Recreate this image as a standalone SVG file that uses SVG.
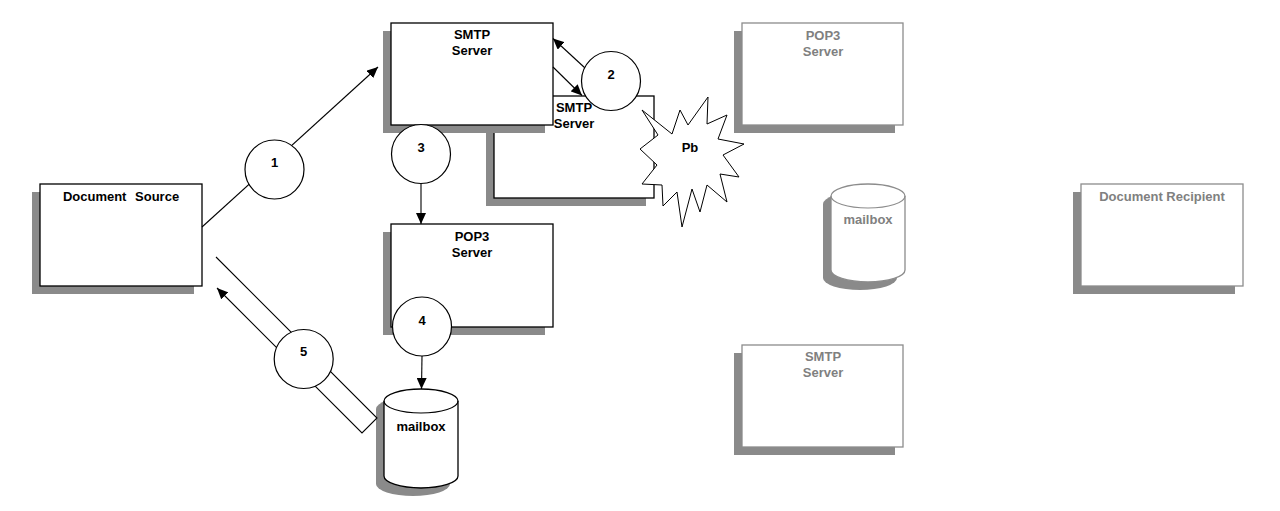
<svg xmlns="http://www.w3.org/2000/svg" width="1280" height="511" viewBox="0 0 1280 511">
<style>
.sh{fill:#8a8a8a;stroke:none}
.bx{fill:#fff;stroke:#000;stroke-width:1.3}
.gbx{fill:#fff;stroke:#8c8c8c;stroke-width:1.3}
.t{font-family:"Liberation Sans",Arial,sans-serif;font-weight:bold;font-size:13px;fill:#000;text-anchor:middle}
.gt{font-family:"Liberation Sans",Arial,sans-serif;font-weight:bold;font-size:13px;fill:#808080;text-anchor:middle}
.c{fill:#fff;stroke:#000;stroke-width:1.2}
.ln{fill:none;stroke:#000;stroke-width:1.1}
</style>
<defs>
<marker id="ah" markerUnits="userSpaceOnUse" markerWidth="12" markerHeight="10" refX="11" refY="5" orient="auto">
<path d="M0,0 L11,5 L0,10 Z" fill="#000"/>
</marker>
</defs>
<rect width="1280" height="511" fill="#fff"/>

<g id="smtp-server-2">
<rect class="sh" x="486" y="104" width="160" height="102"/>
<rect class="bx" x="494" y="96" width="160" height="102"/>
<text class="t" x="574" y="112">SMTP</text>
<text class="t" x="574" y="128">Server</text>
</g>

<g id="smtp-server">
<rect class="sh" x="383" y="31" width="162" height="102"/>
<rect class="bx" x="391" y="23" width="162" height="102"/>
<text class="t" x="472" y="39">SMTP</text>
<text class="t" x="472" y="55">Server</text>
</g>

<g id="pb">
<polygon points="642,110 672,134 680,110 688,125 708,97 707,124 727,115 718,139 744,144 723,155 739,177 720,174 727,202 707,185 700,212 692,189 682,227 677,192 663,206 662,185 642,184 657,165 640,149 658,135" fill="#fff" stroke="#000" stroke-width="1"/>
<text class="t" x="690" y="152">Pb</text>
</g>

<g id="document-source">
<rect class="sh" x="32" y="192" width="162" height="102"/>
<rect class="bx" x="40" y="184" width="162" height="102"/>
<text class="t" x="121" y="201" word-spacing="5">Document Source</text>
</g>

<g id="pop3-server">
<rect class="sh" x="383" y="232" width="162" height="103"/>
<rect class="bx" x="391" y="224" width="162" height="103"/>
<text class="t" x="472" y="241">POP3</text>
<text class="t" x="472" y="257">Server</text>
</g>

<g id="mailbox">
<path class="sh" d="M376,409 A37,12 0 0 1 450,409 L450,484 A37,12 0 0 1 376,484 Z"/>
<path class="bx" d="M384,401 A37,12 0 0 1 458,401 L458,476 A37,12 0 0 1 384,476 Z"/>
<path class="ln" d="M384,401 A37,12 0 0 0 458,401"/>
<text class="t" x="421" y="431">mailbox</text>
</g>

<g id="pop3-server-gray">
<rect class="sh" x="734" y="31" width="161" height="102"/>
<rect class="gbx" x="742" y="23" width="161" height="102"/>
<text class="gt" x="823" y="40">POP3</text>
<text class="gt" x="823" y="56">Server</text>
</g>

<g id="mailbox-gray">
<path class="sh" d="M823,204 A37,12 0 0 1 897,204 L897,278 A37,12 0 0 1 823,278 Z"/>
<path class="gbx" d="M831,196 A37,12 0 0 1 905,196 L905,270 A37,12 0 0 1 831,270 Z"/>
<path fill="none" stroke="#8c8c8c" stroke-width="1.1" d="M831,196 A37,12 0 0 0 905,196"/>
<text class="gt" x="868" y="224">mailbox</text>
</g>

<g id="document-recipient">
<rect class="sh" x="1073" y="192" width="162" height="102"/>
<rect class="gbx" x="1081" y="184" width="162" height="102"/>
<text class="gt" x="1162" y="201">Document Recipient</text>
</g>

<g id="smtp-server-gray">
<rect class="sh" x="734" y="353" width="161" height="102"/>
<rect class="gbx" x="742" y="345" width="161" height="102"/>
<text class="gt" x="823" y="361">SMTP</text>
<text class="gt" x="823" y="377">Server</text>
</g>

<g id="connectors">
<line class="ln" x1="202" y1="227" x2="378" y2="67" marker-end="url(#ah)"/>
<line class="ln" x1="585" y1="68" x2="553" y2="38.5" marker-end="url(#ah)"/>
<line class="ln" x1="553" y1="67" x2="582" y2="95.5" marker-end="url(#ah)"/>
<line class="ln" x1="421" y1="183.5" x2="421" y2="224" marker-end="url(#ah)"/>
<line class="ln" x1="422" y1="356" x2="421.5" y2="389" marker-end="url(#ah)"/>
<path class="ln" stroke-width="0.9" d="M216,257 L377,418 L362,433 L217,288" marker-end="url(#ah)"/>
</g>

<g id="step-1">
<circle class="c" cx="274.5" cy="169.5" r="29.5"/>
<text class="t" x="274.5" y="167">1</text>
</g>
<g id="step-2">
<circle class="c" cx="611" cy="81" r="29.5"/>
<text class="t" x="611" y="79">2</text>
</g>
<g id="step-3">
<circle class="c" cx="421" cy="154" r="29.5"/>
<text class="t" x="421" y="152">3</text>
</g>
<g id="step-4">
<circle class="c" cx="422" cy="326.5" r="29.5"/>
<text class="t" x="422" y="324.5">4</text>
</g>
<g id="step-5">
<circle class="c" cx="303.7" cy="359" r="29.5"/>
<text class="t" x="303.7" y="356">5</text>
</g>
</svg>
